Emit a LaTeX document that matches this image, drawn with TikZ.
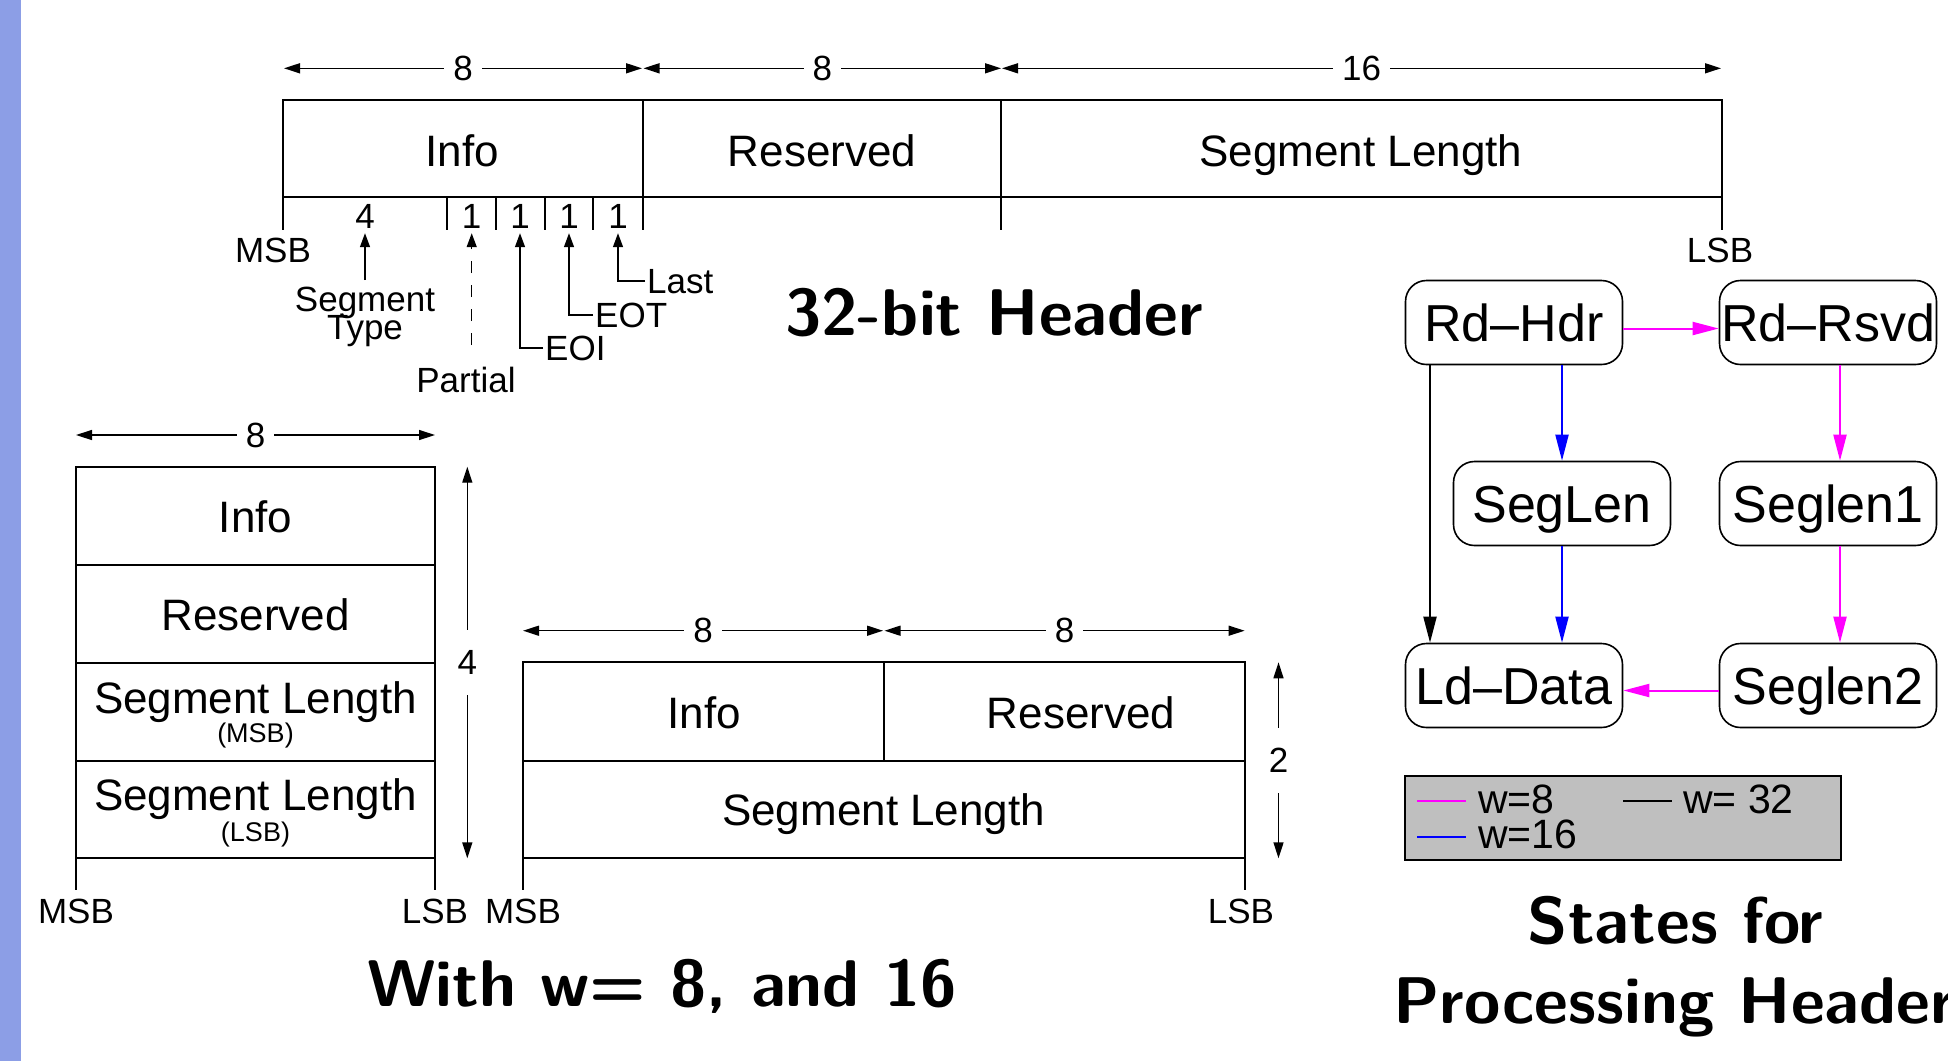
\documentclass[tikz,border=0pt]{standalone}
\usepackage{fontspec}
\setmainfont{Liberation Sans}
\usetikzlibrary{arrows.meta}
\definecolor{barblue}{RGB}{140,158,230}
\definecolor{leggray}{RGB}{191,191,191}
\definecolor{mag}{RGB}{255,0,255}
\definecolor{blu}{RGB}{0,0,255}
\newcommand\fsz[2]{\fontsize{#1}{#2}\selectfont}
\begin{document}
\begin{tikzpicture}[x=1pt,y=-1pt,
  box/.style={line width=1.8pt},
  dim/.style={line width=1.4pt,{Triangle[length=16pt,width=10pt]}-{Triangle[length=16pt,width=10pt]}},
  dimlab/.style={fill=white,inner xsep=9pt,inner ysep=2pt,font=\fsz{35}{40}},
  vdimlab/.style={fill=white,inner xsep=2pt,inner ysep=20pt,font=\fsz{35}{40}},
  field/.style={anchor=base,inner sep=0pt,font=\fsz{44}{50}},
  small/.style={anchor=base,inner sep=0pt,font=\fsz{27}{30}},
  lbl/.style={font=\fsz{35}{40},inner sep=2pt},
  ptr/.style={line width=1.4pt,-{Triangle[length=14pt,width=10pt]}},
  state/.style={draw,line width=1.6pt,rounded corners=21pt,minimum width=217pt,minimum height=84pt,inner sep=0pt,font=\fsz{52}{60},text height=37.5pt,text depth=0pt},
  ed/.style={line width=2pt,-{Triangle[length=26pt,width=13pt]}},
  title/.style={anchor=base,inner sep=0pt,font=\sffamily\bfseries\fsz{66}{72}},
  legtxt/.style={anchor=base west,inner sep=0pt,font=\fsz{41}{48}},
]
\useasboundingbox (0,0) rectangle (1948,1061);
\fill[barblue] (0,0) rectangle (21,1061);

% ---------- 32-bit header ----------
\draw[box] (283,100) rectangle (1722,197);
\draw[box] (283,197) -- (283,230);
\draw[box] (642.7,100) -- (642.7,230);
\draw[box] (1001,100) -- (1001,230);
\draw[box] (1722,197) -- (1722,230);
\foreach \x in {446.7,496,545,593.3} \draw[box] (\x,197) -- (\x,230);
\draw[dim] (284,68.3) -- (642,68.3) node[dimlab,midway] (d1) {8};
\draw[dim] (643.5,68.3) -- (1001,68.3) node[dimlab,midway] (d2) {8};
\draw[dim] (1002,68.3) -- (1721,68.3) node[dimlab,midway] (d3) {16};
\node[field] (tinfo) at (462,166) {Info};
\node[field] (tres) at (822,166) {Reserved};
\node[field] (tsl) at (1361,166) {Segment Length};
\node[lbl,anchor=base] (b4) at (365,228) {4};
\node[lbl,anchor=base] (b1) at (471.7,228) {1};
\node[lbl,anchor=base] (b2) at (520,228) {1};
\node[lbl,anchor=base] (b3) at (569,228) {1};
\node[lbl,anchor=base] (b0) at (618,228) {1};
\node[lbl,anchor=base] (tmsb) at (273,262.7) {MSB};
\node[lbl,anchor=base] (tlsb) at (1720,262.7) {LSB};
\node[lbl,anchor=base] (stype) at (365,311.7) {Segment};
\node[lbl,anchor=base] (stype2) at (365,339) {Type};
\draw[ptr] ([yshift=5pt]stype.north) -- ([yshift=-3pt]b4.south);
\node[lbl,anchor=base] (partial) at (466,392.7) {Partial};
\coordinate (pbot) at (471.7,345);
\draw[ptr,dash pattern=on 12pt off 12pt] (pbot) -- ([yshift=-3pt]b1.south);
\node[lbl,anchor=base west] (eoi) at (543,360) {EOI};
\draw[ptr] (eoi.west) -| ([yshift=-3pt]b2.south);
\node[lbl,anchor=base west] (eot) at (593,327) {EOT};
\draw[ptr] (eot.west) -| ([yshift=-3pt]b3.south);
\node[lbl,anchor=base west] (last) at (645,293) {Last};
\draw[ptr] (last.west) -| ([yshift=-3pt]b0.south);
\node[title] (t1) at (994,335) {32-bit Header};

% ---------- w = 8 stack ----------
\draw[box] (76,466.7) rectangle (435,858.3);
\foreach \y in {565,662.7,760.7} \draw[box] (76,\y) -- (435,\y);
\draw[box] (76,858.3) -- (76,890);
\draw[box] (435,858.3) -- (435,890);
\draw[dim] (76,435) -- (435,435) node[dimlab,midway] (d4) {8};
\draw[dim] (467.3,466.7) -- (467.3,858.3) node[vdimlab,midway] (d5) {4};
\node[field] (sinfo) at (255.5,532.7) {Info};
\node[field] (sres) at (255.5,630) {Reserved};
\node[field] (ssl1) at (255.5,713) {Segment Length};
\node[small] (smsb) at (255.5,742.5) {(MSB)};
\node[field] (ssl2) at (255.5,810) {Segment Length};
\node[small] (slsb) at (255.5,841) {(LSB)};
\node[lbl,anchor=base] (bmsb1) at (76,923) {MSB};
\node[lbl,anchor=base] (blsb1) at (435,923) {LSB};

% ---------- w = 16 ----------
\draw[box] (523,662.3) rectangle (1244.6,858.3);
\draw[box] (523,761) -- (1244.6,761);
\draw[box] (883.6,662.3) -- (883.6,761);
\draw[box] (523,858.3) -- (523,890);
\draw[box] (1244.6,858.3) -- (1244.6,890);
\draw[dim] (523,630.7) -- (883,630.7) node[dimlab,midway] (d6) {8};
\draw[dim] (884.5,630.7) -- (1244.6,630.7) node[dimlab,midway] (d7) {8};
\draw[dim] (1278.5,662.3) -- (1278.5,858.3) node[vdimlab,midway] (d8) {2};
\node[field] (minfo) at (704,728.3) {Info};
\node[field] (mres) at (1081,728.3) {Reserved};
\node[field] (msl) at (883.6,825) {Segment Length};
\node[lbl,anchor=base] (bmsb2) at (523,923) {MSB};
\node[lbl,anchor=base] (blsb2) at (1241,923) {LSB};
\node[title] (t2) at (662,1006) {With w= 8, and 16};

% ---------- state machine ----------
\node[state] (rdhdr) at (1514,322.5) {Rd–Hdr};
\node[state] (rdrsvd) at (1828,322.5) {Rd–Rsvd};
\node[state] (seglen) at (1562,503.5) {SegLen};
\node[state] (seglen1) at (1828,503.5) {Seglen1};
\node[state] (lddata) at (1514,685.5) {Ld–Data};
\node[state] (seglen2) at (1828,685.5) {Seglen2};
\draw[ed,mag] ([yshift=-6pt]rdhdr.east) -- ([yshift=-6pt]rdrsvd.west);
\draw[ed,blu] (rdhdr.south -| seglen.north) -- (seglen.north);
\draw[ed,blu] (seglen.south) -- (seglen.south |- lddata.north);
\draw[ed,black] ([xshift=-84pt]rdhdr.south) -- ([xshift=-84pt]lddata.north);
\draw[ed,mag] ([xshift=12pt]rdrsvd.south) -- ([xshift=12pt]seglen1.north);
\draw[ed,mag] ([xshift=12pt]seglen1.south) -- ([xshift=12pt]seglen2.north);
\draw[ed,mag] ([yshift=-5pt]seglen2.west) -- ([yshift=-5pt]lddata.east);

\node[draw,fill=leggray,line width=1.8pt,minimum width=435.7pt,minimum height=84pt,inner sep=0pt] (legend) at (1622.9,818) {};
\draw[mag,line width=1.8pt] (1417,800.7) -- (1466,800.7);
\node[legtxt] (l8) at (1478,813) {w=8};
\draw[black,line width=1.8pt] (1623,800.7) -- (1672,800.7);
\node[legtxt] (l32) at (1683,813) {w= 32};
\draw[blu,line width=1.8pt] (1417,836.7) -- (1466,836.7);
\node[legtxt] (l16) at (1478,848) {w=16};

\node[title] (t3) at (1675.5,943) {States for};
\node[title,anchor=base west] (t4) at (1393,1023) {Processing Header};
\end{tikzpicture}
\end{document}
